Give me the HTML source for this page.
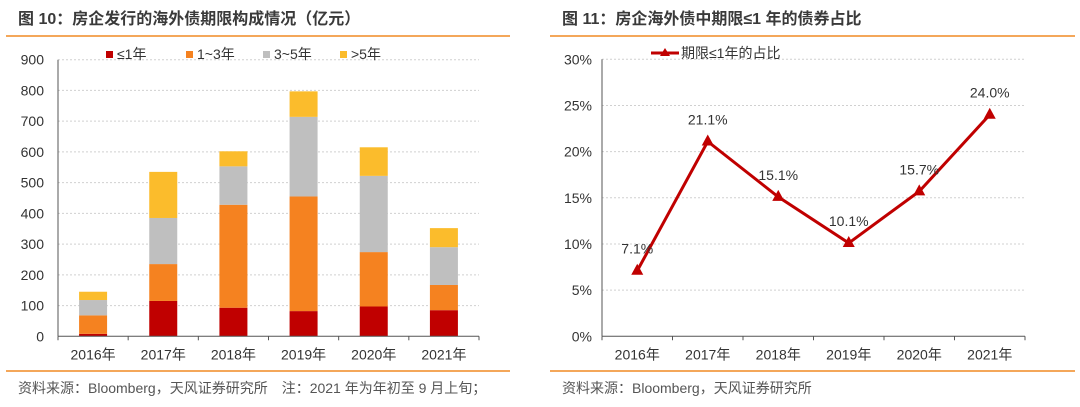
<!DOCTYPE html>
<html><head><meta charset="utf-8"><style>
body{margin:0;background:#fff;width:1080px;height:407px;overflow:hidden}
svg{display:block;font-family:"Liberation Sans","Noto Sans CJK SC",sans-serif}
</style></head><body>
<svg id="s" width="1080" height="407">
<text x="18" y="24" font-size="16" font-weight="bold" fill="#3a3a3a">图 10：房企发行的海外债期限构成情况（亿元）</text>
<line x1="6" y1="36" x2="510" y2="36" stroke="#f08a24" stroke-width="1.5"/>
<text x="562" y="24" font-size="16" font-weight="bold" fill="#3a3a3a">图 11：房企海外债中期限≤1 年的债券占比</text>
<line x1="550" y1="36" x2="1075" y2="36" stroke="#f08a24" stroke-width="1.5"/>
<line x1="6" y1="371" x2="510" y2="371" stroke="#f08a24" stroke-width="1.5"/>
<line x1="550" y1="371" x2="1075" y2="371" stroke="#f08a24" stroke-width="1.5"/>
<text x="18" y="393" font-size="14" fill="#555">资料来源：Bloomberg，天风证券研究所　注：2021 年为年初至 9 月上旬；</text>
<text x="562" y="393" font-size="14" fill="#555">资料来源：Bloomberg，天风证券研究所</text>
<g id="left"></g><g id="right"></g>
</svg>
<script>
const categories=["2016年","2017年","2018年","2019年","2020年","2021年"];
const seriesNames=["≤1年","1~3年","3~5年",">5年"];
const le1=[8,115,93,82,97,85];
const y1to3=[60,120,335,373,177,82];
const y3to5=[50,150,125,259,248,123];
const gt5=[27,150,49,83,93,62];
const leftTicks=[0,100,200,300,400,500,600,700,800,900];
const shareVals=[7.1,21.1,15.1,10.1,15.7,24.0];
const shareLabels=["7.1%","21.1%","15.1%","10.1%","15.7%","24.0%"];
const rightTicks=[0,5,10,15,20,25,30];

const NS="http://www.w3.org/2000/svg";
function mk(parent,tag,attrs,text){const e=document.createElementNS(NS,tag);for(const k in attrs)e.setAttribute(k,attrs[k]);if(text!==undefined)e.textContent=text;parent.appendChild(e);return e;}
const colors=["#c00000","#f58220","#bfbfbf","#fbbc2c"];
const L=document.getElementById('left');
const lx0=58,lx1=479,ly0=336.3,ly1=59.7;
const ly=v=>ly0-(v/900)*(ly0-ly1);
const lband=(lx1-lx0)/categories.length;
const lcx=i=>lx0+lband*(i+0.5);
leftTicks.forEach(t=>{
  if(t>0){const g=mk(L,'line',{x1:lx0,x2:lx1,y1:ly(t),y2:ly(t),stroke:'#d0d0d0','stroke-dasharray':'2,2'});
  }
  const tx=mk(L,'text',{x:lx0-14,y:ly(t)+5,'text-anchor':'end','font-size':14,fill:'#333'},String(t));
  
});
const stacks=[le1,y1to3,y3to5,gt5];
categories.forEach((c,i)=>{
  let base=0;
  stacks.forEach((s,k)=>{
    const r=mk(L,'rect',{x:lcx(i)-14,width:28,y:ly(base+s[i]),height:ly(base)-ly(base+s[i]),fill:colors[k]});
    
    base+=s[i];
  });
  const t=mk(L,'text',{x:lcx(i),y:ly0+23,'text-anchor':'middle','font-size':14,fill:'#333'},c);
  
  const tk=mk(L,'line',{x1:lx0+lband*i,x2:lx0+lband*i,y1:ly0,y2:ly0+4,stroke:'#555'});
  
});
{const a=mk(L,'line',{x1:lx0,x2:lx0,y1:ly1,y2:ly0,stroke:'#555'});
const b=mk(L,'line',{x1:lx0,x2:lx1,y1:ly0,y2:ly0,stroke:'#555'});
const tk=mk(L,'line',{x1:lx1,x2:lx1,y1:ly0,y2:ly0+4,stroke:'#555'});}
const legX=[106,186,263,340];
seriesNames.forEach((n,k)=>{
  const g=mk(L,'g',{});
  
  mk(g,'rect',{x:legX[k],y:51,width:7,height:7,fill:colors[k]});
  mk(g,'text',{x:legX[k]+11,y:59,'font-size':14,fill:'#333'},n);
});
const R=document.getElementById('right');
const rx0=602,rx1=1025,ry0=336.3,ry1=59.3;
const ry=v=>ry0-(v/30)*(ry0-ry1);
const rband=(rx1-rx0)/categories.length;
const rcx=i=>rx0+rband*(i+0.5);
rightTicks.forEach(t=>{
  if(t>0){const g=mk(R,'line',{x1:rx0,x2:rx1,y1:ry(t),y2:ry(t),stroke:'#d0d0d0','stroke-dasharray':'2,2'});
  }
  const tx=mk(R,'text',{x:rx0-10,y:ry(t)+5,'text-anchor':'end','font-size':14,fill:'#333'},t+'%');
  
});
categories.forEach((c,i)=>{
  const t=mk(R,'text',{x:rcx(i),y:ry0+23,'text-anchor':'middle','font-size':14,fill:'#333'},c);
  
  const tk=mk(R,'line',{x1:rx0+rband*i,x2:rx0+rband*i,y1:ry0,y2:ry0+4,stroke:'#555'});
  
});
{const a=mk(R,'line',{x1:rx0,x2:rx0,y1:ry1,y2:ry0,stroke:'#555'});
const b=mk(R,'line',{x1:rx0,x2:rx1,y1:ry0,y2:ry0,stroke:'#555'});
const tk=mk(R,'line',{x1:rx1,x2:rx1,y1:ry0,y2:ry0+4,stroke:'#555'});}
const pts=shareVals.map((v,i)=>rcx(i)+','+ry(v)).join(' ');
const pl=mk(R,'polyline',{points:pts,fill:'none',stroke:'#c00000','stroke-width':3,'stroke-linejoin':'miter'});

shareVals.forEach((v,i)=>{
  const x=rcx(i),y=ry(v);
  const m=mk(R,'polygon',{points:`${x},${y-7} ${x-6},${y+4} ${x+6},${y+4}`,fill:'#c00000'});
  
  const l=mk(R,'text',{x:x,y:y-17,'text-anchor':'middle','font-size':14,fill:'#333'},shareLabels[i]);
  
});
{const g=mk(R,'g',{});
mk(g,'line',{x1:651,x2:679,y1:53,y2:53,stroke:'#c00000','stroke-width':3});
mk(g,'polygon',{points:'665,48 660,56 670,56',fill:'#c00000'});
mk(g,'text',{x:681,y:58,'font-size':14,fill:'#333'},'期限≤1年的占比');}
</script>
</body></html>
